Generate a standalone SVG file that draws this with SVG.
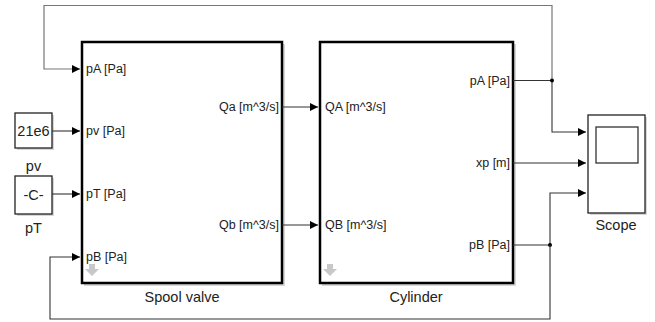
<svg xmlns="http://www.w3.org/2000/svg" width="655" height="322" viewBox="0 0 655 322">
<defs>
<style>
.blk{fill:#fff;stroke:#000;stroke-width:2.5}
.sm{fill:#fff;stroke:#222;stroke-width:1.3}
.sh{fill:#bbb;opacity:0.6}
.ln{fill:none;stroke:#333;stroke-width:1.1}
.top{fill:none;stroke:#777;stroke-width:1.2}
.pt{font-family:"Liberation Sans",Arial,sans-serif;font-size:12.5px;fill:#222}
.lb{font-family:"Liberation Sans",Arial,sans-serif;font-size:14.5px;fill:#222}
.icon{fill:#c8c8c8}
</style>
<marker id="ar" markerWidth="8" markerHeight="8" refX="8" refY="4" orient="auto" markerUnits="userSpaceOnUse">
<path d="M0,0 L8,4 L0,8 Z" fill="#000"/>
</marker>
</defs>
<rect width="655" height="322" fill="#fff"/>

<g id="spool">
<rect class="sh" x="84" y="44" width="201" height="242"/>
<rect class="blk" x="82" y="42" width="200" height="241"/>
<path class="icon" d="M89,264 h6 v5 h4 l-7,7 l-7,-7 h4 z"/>
<text class="pt" x="86" y="73">pA [Pa]</text>
<text class="pt" x="86" y="135">pv [Pa]</text>
<text class="pt" x="86" y="198">pT [Pa]</text>
<text class="pt" x="86" y="261">pB [Pa]</text>
<text class="pt" x="279" y="111" text-anchor="end">Qa [m^3/s]</text>
<text class="pt" x="279" y="229" text-anchor="end">Qb [m^3/s]</text>
<text class="lb" x="182" y="302" text-anchor="middle">Spool valve</text>
</g>

<g id="cylinder">
<rect class="sh" x="322" y="44" width="194" height="242"/>
<rect class="blk" x="320" y="42" width="193" height="241"/>
<path class="icon" d="M327,264 h6 v5 h4 l-7,7 l-7,-7 h4 z"/>
<text class="pt" x="325" y="111">QA [m^3/s]</text>
<text class="pt" x="325" y="229">QB [m^3/s]</text>
<text class="pt" x="510" y="85" text-anchor="end">pA [Pa]</text>
<text class="pt" x="510" y="167" text-anchor="end">xp [m]</text>
<text class="pt" x="510" y="249" text-anchor="end">pB [Pa]</text>
<text class="lb" x="416" y="302" text-anchor="middle">Cylinder</text>
</g>

<g id="pv">
<rect class="sh" x="17" y="115" width="37" height="35"/>
<rect class="sm" x="15" y="113" width="37" height="35"/>
<text class="lb" x="33.5" y="136" text-anchor="middle">21e6</text>
<text class="lb" x="33.5" y="171" text-anchor="middle">pv</text>
</g>

<g id="pT">
<rect class="sh" x="17" y="178" width="37" height="38"/>
<rect class="sm" x="15" y="176" width="37" height="38"/>
<text class="lb" x="33.5" y="200" text-anchor="middle">-C-</text>
<text class="lb" x="33.5" y="233" text-anchor="middle">pT</text>
</g>

<g id="scope">
<rect class="sh" x="590" y="117" width="57" height="98"/>
<rect class="sm" x="588" y="115" width="57" height="98"/>
<rect fill="#fff" stroke="#333" stroke-width="1.3" x="596" y="127" width="42" height="36"/>
<text class="lb" x="616" y="230" text-anchor="middle">Scope</text>
</g>

<g id="connectors">
<path class="top" d="M552,80.5 V5.5 H44 V69 H80" marker-end="url(#ar)"/>
<path class="ln" d="M513,80.5 H552 V132 H586" marker-end="url(#ar)"/>
<circle cx="552" cy="80.5" r="2" fill="#000"/>
<path class="ln" d="M513,163 H586" marker-end="url(#ar)"/>
<path class="ln" d="M513,245 H550 V193 H586" marker-end="url(#ar)"/>
<circle cx="550" cy="245" r="2" fill="#000"/>
<path class="ln" d="M550,245 V319 H50 V257 H80" marker-end="url(#ar)"/>
<path class="ln" d="M52,131 H80" marker-end="url(#ar)"/>
<path class="ln" d="M52,194 H80" marker-end="url(#ar)"/>
<path class="ln" d="M282,107 H318" marker-end="url(#ar)"/>
<path class="ln" d="M282,225 H318" marker-end="url(#ar)"/>
</g>
</svg>
